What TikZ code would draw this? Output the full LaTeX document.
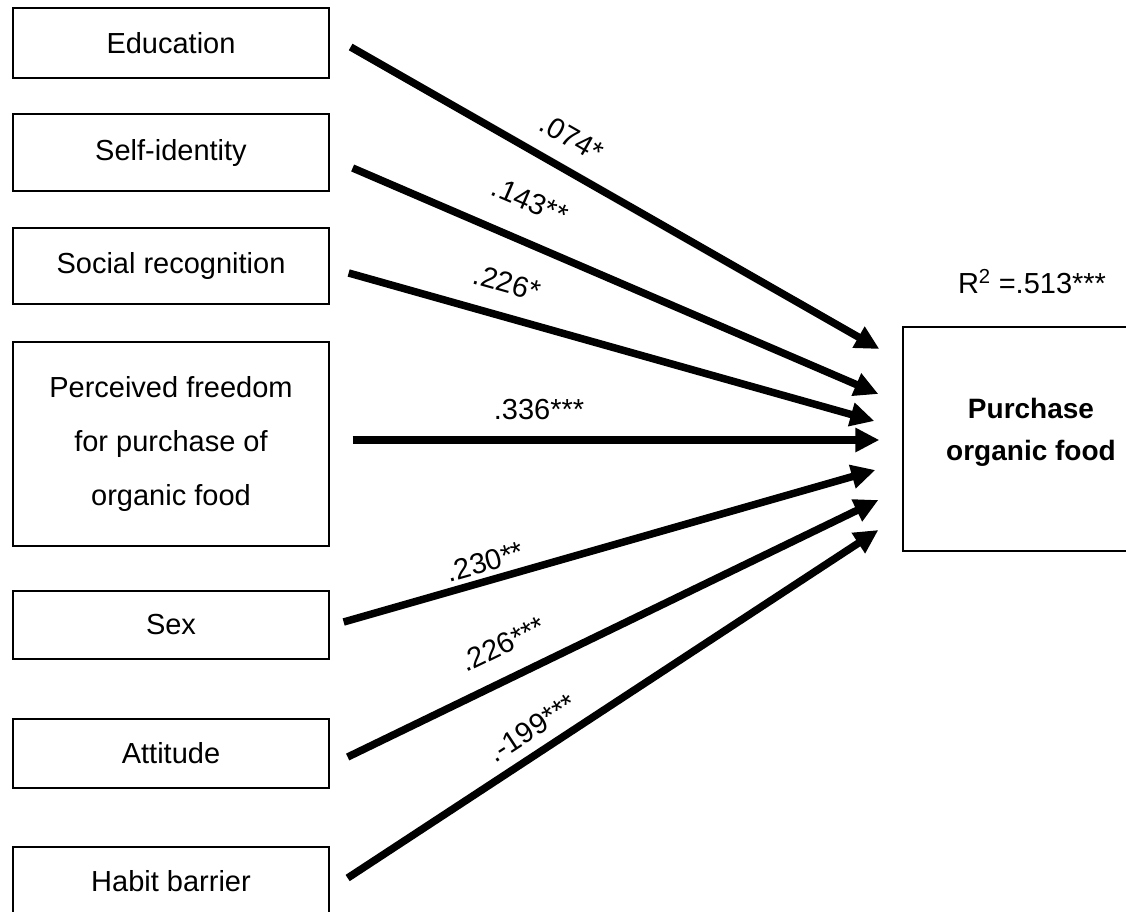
\documentclass[tikz,border=0pt]{standalone}
\usepackage{fontspec}
\setmainfont{Liberation Sans}
\usetikzlibrary{arrows.meta}
\begin{document}
\begin{tikzpicture}[x=1pt,y=-1pt,
  varbox/.style={draw, line width=1.3pt, inner sep=0pt, minimum width=316pt,
    align=center, font=\fontsize{29}{54}\selectfont},
  outbox/.style={draw, line width=1.3pt, inner sep=0pt, minimum width=256pt, minimum height=224pt},
  outtext/.style={align=center, inner sep=0pt, font=\fontsize{28}{42}\selectfont\bfseries},
  effect/.style={line width=7.5pt, -{Triangle[length=24pt,width=23pt]}},
  coef/.style={inner sep=0pt, font=\fontsize{29}{34}\selectfont}
]
\useasboundingbox (0,0) rectangle (1126,911);
\clip (0,0) rectangle (1126,911);
\fill[white] (0,0) rectangle (1126,911);

% predictors
\node[varbox, minimum height=70pt] (edu)    at (171,43)    {Education};
\node[varbox, minimum height=77pt] (self)   at (171,152.5) {Self-identity};
\node[varbox, minimum height=76pt] (social) at (171,266)   {Social recognition};
\node[varbox, minimum height=204pt] (perc)  at (171,444)   {Perceived freedom\\for purchase of\\organic food};
\node[varbox, minimum height=68pt] (sex)    at (171,625)   {Sex};
\node[varbox, minimum height=69pt] (att)    at (171,753.5) {Attitude};
\node[varbox, minimum height=68pt] (habit)  at (171,881)   {Habit barrier};

% outcome
\node[outbox] (out) at (1031,439) {};
\node[outtext] (outlabel) at ([yshift=7pt]out.center) {Purchase\\organic food};
\node[coef, anchor=base] (rsq) at (1032,293) {R\textsuperscript{2} =.513***};

% paths
\draw[effect] ([shift={(21,4)}]edu.east)      -- ([shift={(-23,-90)}]out.west);
\draw[effect] ([shift={(23,15.5)}]self.east)  -- ([shift={(-24,-45)}]out.west);
\draw[effect] ([shift={(19,7)}]social.east)   -- ([shift={(-28,-18)}]out.west);
\draw[effect] ([shift={(23,-4)}]perc.east)    -- ([shift={(-23,1)}]out.west);
\draw[effect] ([shift={(14,-3)}]sex.east)     -- ([shift={(-27,31)}]out.west);
\draw[effect] ([shift={(18,3.5)}]att.east)    -- ([shift={(-24,61)}]out.west);
\draw[effect] ([shift={(18,-3)}]habit.east)   -- ([shift={(-24,91)}]out.west);

% coefficients
\node[coef, rotate=-29.7] (c1) at (572,138) {.074*};
\node[coef, rotate=-23.2] (c2) at (530,201) {.143**};
\node[coef, rotate=-15.7] (c3) at (507,283) {.226*};
\node[coef, anchor=base]  (c4) at (539,419) {.336***};
\node[coef, rotate=15.9]  (c5) at (485,562) {.230**};
\node[coef, rotate=25.8]  (c6) at (503,644) {.226***};
\node[coef, rotate=33.2]  (c7) at (532,728) {.-199***};
\end{tikzpicture}
\end{document}
